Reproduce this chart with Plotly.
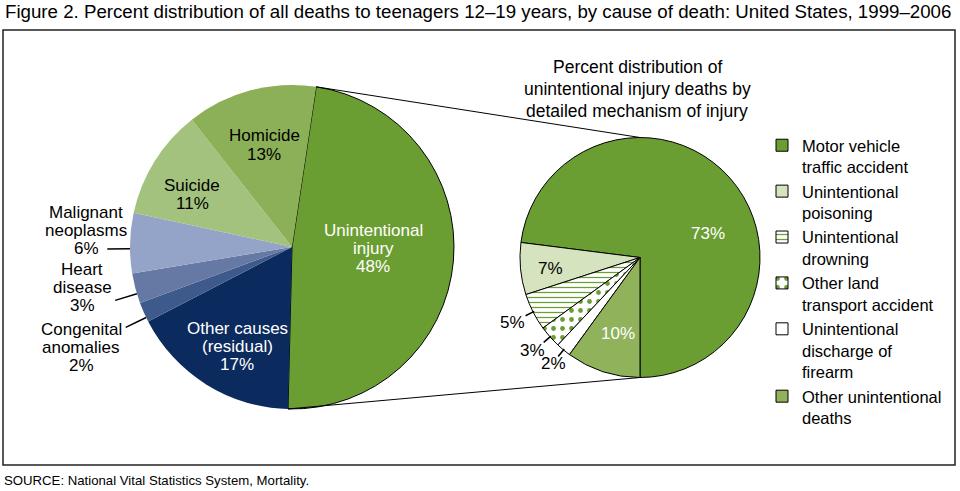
import math
import plotly.graph_objects as go

# --- Data ---
CAUSES = ["Unintentional<br>injury", "Other causes<br>(residual)", "Congenital<br>anomalies",
          "Heart<br>disease", "Malignant<br>neoplasms", "Suicide", "Homicide"]
CAUSE_PCT = [48, 17, 2, 3, 6, 11, 13]

MECHANISMS = ["Motor vehicle<br>traffic accident", "Unintentional<br>poisoning",
              "Unintentional<br>drowning", "Other land<br>transport accident",
              "Unintentional<br>discharge of<br>firearm", "Other unintentional<br>deaths"]
MECH_PCT = [73, 7, 5, 3, 2, 10]

TITLE = ("Figure 2. Percent distribution of all deaths to teenagers 12\u201319 years, "
         "by cause of death: United States, 1999\u20132006")
SUBTITLE = ["Percent distribution of", "unintentional injury deaths by",
            "detailed mechanism of injury"]
SOURCE = "SOURCE: National Vital Statistics System, Mortality."

# --- Style ---
W, H = 960, 491
FONT = "Arial, 'Liberation Sans', sans-serif"
GREEN = "#6b9e32"
CAUSE_COLORS = [GREEN, "#0b2a5e", "#3e5a8c", "#6579a4", "#94a4c8", "#a3c27d", "#8cb057"]
MECH_COLORS = [GREEN, "#d6e3bf", "white", "white", "white", "#8fb25a"]

# pie geometry in pixels (center x, center y, radius)
LEFT = (292, 247, 162)
RIGHT = (640, 257.5, 120)
ROT_LEFT = 8.6  # unintentional slice starts just right of 12 o'clock

# label placement in pixels
LEFT_TEXT_XY = [(373, 248), (237, 346), (81, 347), (82, 287), (86, 230), (192, 194), (264, 145)]
LEFT_TEXT_COLOR = ["white", "white", "black", "black", "black", "black", "black"]
LEFT_LEADERS = [2, 3, 4]
RIGHT_TEXT_XY = [(708, 233), (550, 268), (512, 322), (532, 350), (553, 363), (618, 333)]
RIGHT_TEXT_COLOR = ["white", "black", "black", "black", "black", "white"]
RIGHT_LEADERS = [2, 3, 4]


def px(x, y):
    return x / W, 1 - y / H


def domain(c):
    cx, cy, r = c
    return dict(x=[(cx - r) / W, (cx + r) / W], y=[1 - (cy + r) / H, 1 - (cy - r) / H])


def slice_angles(values, rotation, clockwise):
    # same convention as plotly.js: degrees clockwise from 12 o'clock
    total = float(sum(values))
    out = []
    if clockwise:
        a = rotation
        for v in values:
            d = 360 * v / total
            out.append((a, a + d))
            a += d
    else:
        a = rotation + 360 * values[0] / total
        for v in values:
            d = 360 * v / total
            out.append((a - d, a))
            a -= d
    return out


def on_circle(c, ang, frac):
    cx, cy, r = c
    t = math.radians(ang)
    return cx + frac * r * math.sin(t), cy - frac * r * math.cos(t)


def add_line(fig, p0, p1, width=1.0):
    x0, y0 = px(*p0)
    x1, y1 = px(*p1)
    fig.add_shape(type="line", xref="paper", yref="paper", x0=x0, y0=y0, x1=x1, y1=y1,
                  line=dict(color="black", width=width))


def add_text(fig, x, y, lines, color="black", size=17, spacing=18):
    n = len(lines)
    for i, line in enumerate(lines):
        yy = y + (i - (n - 1) / 2.0) * spacing
        xp, yp = px(x, yy)
        fig.add_annotation(x=xp, y=yp, xref="paper", yref="paper", text=line, showarrow=False,
                           xanchor="center", yanchor="middle",
                           font=dict(family=FONT, size=size, color=color))


# right pie: last slice (other unintentional) ends at 6 o'clock, drawn counterclockwise
rot_right = 180 + 360 * sum(MECH_PCT[1:]) / float(sum(MECH_PCT))
left_ang = slice_angles(CAUSE_PCT, ROT_LEFT, True)
right_ang = slice_angles(MECH_PCT, rot_right, False)

fig = go.Figure()

fig.add_trace(go.Pie(
    labels=CAUSES, values=CAUSE_PCT, sort=False, direction="clockwise", rotation=ROT_LEFT,
    marker=dict(colors=CAUSE_COLORS,
                line=dict(color="black", width=[1] + [0] * (len(CAUSES) - 1))),
    textinfo="none", hoverinfo="label+value", showlegend=False,
    domain=domain(LEFT)
))

fig.add_trace(go.Pie(
    labels=MECHANISMS, values=MECH_PCT, sort=False, direction="counterclockwise",
    rotation=rot_right,
    marker=dict(colors=MECH_COLORS, line=dict(color="black", width=1),
                pattern=dict(shape=["", "", "-", ".", "", ""], fgcolor=GREEN, bgcolor="white",
                             size=[8, 8, 5, 9, 8, 8], solidity=[0.3, 0.3, 0.25, 0.22, 0.3, 0.3])),
    textinfo="none", hoverinfo="label+value", showlegend=True,
    domain=domain(RIGHT)
))

# connector lines between the unintentional slice and the detail pie
a0, a1 = left_ang[0]
add_line(fig, on_circle(LEFT, a0, 1.0), on_circle(RIGHT, 0, 1.0))
add_line(fig, on_circle(LEFT, a1, 1.0), on_circle(RIGHT, 180, 1.0))

# slice labels
for i, name in enumerate(CAUSES):
    lines = name.split("<br>") + ["%d%%" % CAUSE_PCT[i]]
    add_text(fig, LEFT_TEXT_XY[i][0], LEFT_TEXT_XY[i][1], lines, LEFT_TEXT_COLOR[i])
for i in LEFT_LEADERS:
    mid = sum(left_ang[i]) / 2 - 2
    add_line(fig, on_circle(LEFT, mid, 1.0), on_circle(LEFT, mid, 1.14), 1.5)

for i, v in enumerate(MECH_PCT):
    add_text(fig, RIGHT_TEXT_XY[i][0], RIGHT_TEXT_XY[i][1], ["%d%%" % v], RIGHT_TEXT_COLOR[i])
for i in RIGHT_LEADERS:
    mid = sum(right_ang[i]) / 2
    add_line(fig, on_circle(RIGHT, mid, 0.99), on_circle(RIGHT, mid, 1.07), 1.5)

add_text(fig, 637, 89, SUBTITLE, size=17.5, spacing=22)

# title, frame and source
fig.add_annotation(x=3 / W, y=1 - 12 / H, xref="paper", yref="paper", text=TITLE,
                   showarrow=False, xanchor="left", yanchor="middle",
                   font=dict(family=FONT, size=18.7, color="black"))
fig.add_annotation(x=2 / W, y=1 - 480 / H, xref="paper", yref="paper", text=SOURCE,
                   showarrow=False, xanchor="left", yanchor="middle",
                   font=dict(family=FONT, size=13.2, color="black"))
fig.add_shape(type="rect", xref="paper", yref="paper", x0=3 / W, y0=1 - 465 / H,
              x1=955 / W, y1=1 - 30 / H, line=dict(color="#222222", width=1.5))

fig.update_layout(
    width=W, height=H,
    margin=dict(l=0, r=0, t=0, b=0),
    paper_bgcolor="white",
    font=dict(family=FONT, color="black"),
    legend=dict(x=762 / W, y=1 - 128 / H, xanchor="left", yanchor="top", valign="top",
                font=dict(family=FONT, size=16.5, color="black"), bgcolor="rgba(0,0,0,0)"),
)

# page body has a default margin; drop it so the figure sits at the window corner
fig.write_html("out.html", config={"displayModeBar": False},
               post_script="document.body.style.margin = '0';")
